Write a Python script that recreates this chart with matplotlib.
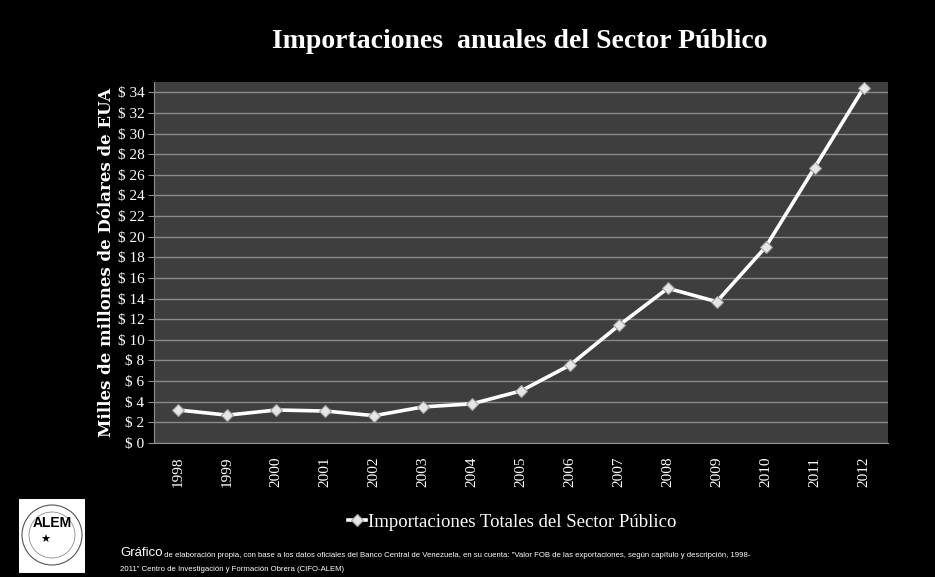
import numpy as np
import matplotlib.pyplot as plt
from matplotlib.patches import Circle

years = ['1998', '1999', '2000', '2001', '2002', '2003', '2004', '2005',
         '2006', '2007', '2008', '2009', '2010', '2011', '2012']
importaciones = [3.2, 2.7, 3.2, 3.1, 2.65, 3.5, 3.8, 5.05,
                 7.55, 11.4, 15.0, 13.7, 19.0, 26.7, 34.4]
y_ticks = list(range(0, 35, 2))
y_labels = ['$ %d' % v for v in y_ticks]

serif = ['Liberation Serif', 'DejaVu Serif']
wide_serif = ['DejaVu Serif']
narrow = ['Liberation Sans Narrow', 'Liberation Sans', 'DejaVu Sans']

fig = plt.figure(figsize=(9.35, 5.77), dpi=100, facecolor='black')
ax = fig.add_axes([154 / 935, 1 - 443 / 577, (888 - 154) / 935, (443 - 82) / 577])
ax.set_facecolor('#3e3e3e')

x = np.arange(len(years))
ax.plot(x, importaciones, color='white', lw=2.6, marker='D', ms=6,
        mfc='#e6e6e6', mec='#a0a0a0', mew=0.8, zorder=3,
        label='Importaciones Totales del Sector Público')

ax.set_xlim(-0.5, len(years) - 0.5)
ax.set_ylim(0, 35)
ax.set_yticks(y_ticks)
ax.set_yticklabels(y_labels, family=serif, fontsize=11, color='white')
ax.set_xticks(x)
ax.set_xticklabels(years, family=serif, fontsize=11, color='white', rotation=90)
ax.tick_params(axis='x', length=0, pad=10)
ax.tick_params(axis='y', length=4, color='#909090', pad=3)
ax.grid(axis='y', color='#8a8a8a', lw=1)
ax.set_axisbelow(True)
for s in ['top', 'right']:
    ax.spines[s].set_visible(False)
ax.spines['left'].set_color('#909090')
ax.spines['bottom'].set_color('#909090')

ax.set_ylabel('Milles de millones de Dólares de EUA', family=wide_serif, fontsize=12,
              fontweight='bold', color='white', labelpad=2)

fig.text(520 / 935, 1 - 42 / 577, 'Importaciones  anuales del Sector Público',
         family=serif, fontsize=20, fontweight='bold', color='white',
         ha='center', va='center')

leg = fig.legend(loc='center', bbox_to_anchor=(512 / 935, 1 - 522 / 577),
                 frameon=False, prop={'family': serif, 'size': 13.5},
                 handlelength=1.0, handletextpad=0.1)
for t in leg.get_texts():
    t.set_color('white')

g = fig.text(120 / 935, 1 - 556 / 577, 'Gráfico', family=narrow, fontsize=9.5,
             color='white', ha='left', va='baseline')
ax.annotate(' de elaboración propia, con base a los datos oficiales del Banco Central de Venezuela, '
            'en su cuenta: "Valor FOB de las exportaciones, según capítulo y descripción, 1998-',
            xy=(1, 0), xycoords=g, va='bottom', ha='left', family=narrow,
            fontsize=5.6, color='white', annotation_clip=False)
fig.text(120 / 935, 1 - 571 / 577,
         '2011" Centro de Investigación y Formación Obrera (CIFO-ALEM)',
         family=narrow, fontsize=5.6, color='white', ha='left', va='baseline')

# logo placeholder
logo_ax = fig.add_axes([19 / 935, 1 - 573 / 577, 66 / 935, 74 / 577])
logo_ax.set_facecolor('white')
logo_ax.set_xlim(0, 66)
logo_ax.set_ylim(0, 74)
logo_ax.set_xticks([])
logo_ax.set_yticks([])
for s in logo_ax.spines.values():
    s.set_visible(False)
logo_ax.add_patch(Circle((33, 38), 30, fill=False, ec='#555555', lw=0.8))
logo_ax.add_patch(Circle((33, 38), 23, fill=False, ec='#777777', lw=0.5))
logo_ax.text(33, 50, 'ALEM', family=narrow, fontsize=10, fontweight='bold',
             color='black', ha='center', va='center')
logo_ax.text(26, 33, '★', fontsize=8, color='black', ha='center', va='center')

fig.savefig('out.png', dpi=100, facecolor='black')
